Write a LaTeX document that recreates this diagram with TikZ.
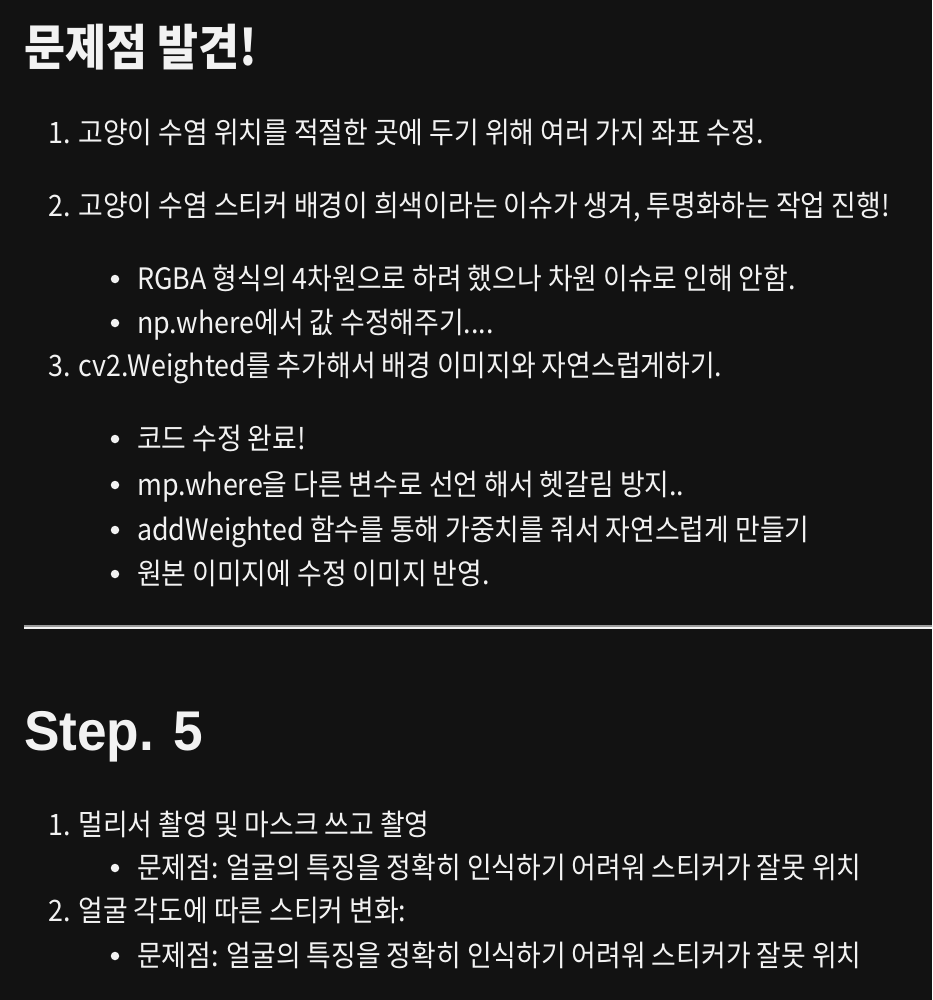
\documentclass[tikz,border=0pt]{standalone}
\usepackage{fontspec}
\setmainfont{Noto Sans CJK KR}[FakeStretch=0.91]
\newfontfamily\headfont{Noto Sans CJK KR}[FakeStretch=0.91]
\newfontfamily\stepfont{Liberation Sans}[FakeStretch=0.95]
\usepackage{tikz}
\usetikzlibrary{positioning}
\definecolor{bg}{HTML}{121212}
\definecolor{fg}{HTML}{F2F2F2}
\definecolor{rulegray}{HTML}{9A9A9A}

\begin{document}
\begin{tikzpicture}[
x=1pt, y=-1pt,
txt/.style={
	anchor=base west, inner sep=0pt, text=fg,
	font=\fontsize{29.5}{35}\selectfont
},
head/.style={
	anchor=base west, inner sep=0pt, text=fg,
	font=\headfont\bfseries\fontsize{49}{58}\selectfont
},
dot/.style={circle, fill=fg, inner sep=0pt, minimum size=8.5pt}
]
\fill[bg] (0,0) rectangle (932,1000);
\node[head] (h1) at (24,66) {문제점 발견!};
\node[txt] (i1) at (48,144) {1. 고양이 수염 위치를 적절한 곳에 두기 위해 여러 가지 좌표 수정.};
\node[txt] (i2) at (48,217) {2. 고양이 수염 스티커 배경이 희색이라는 이슈가 생겨, 투명화하는 작업 진행!};
\node[dot] (d1) at (115,279) {};
\node[txt] (b1) at (137,289) {RGBA 형식의 4차원으로 하려 했으나 차원 이슈로 인해 안함.};
\node[dot] (d2) at (115,323) {};
\node[txt] (b2) at (137,333) {np.where에서 값 수정해주기....};
\node[txt] (i3) at (48,376) {3. cv2.Weighted를 추가해서 배경 이미지와 자연스럽게하기.};
\node[dot] (d3) at (115,439) {};
\node[txt] (b3) at (137,449) {코드 수정 완료!};
\node[dot] (d4) at (115,485) {};
\node[txt] (b4) at (137,495) {mp.where을 다른 변수로 선언 해서 헷갈림 방지..};
\node[dot] (d5) at (115,530) {};
\node[txt] (b5) at (137,540) {addWeighted 함수를 통해 가중치를 줘서 자연스럽게 만들기};
\node[dot] (d6) at (115,574) {};
\node[txt] (b6) at (137,584) {원본 이미지에 수정 이미지 반영.};
% rule
\draw[rulegray, line width=2pt] (24,626) -- (932,626);
\draw[fg, line width=2pt] (24,628) -- (932,628);
\node[head, font=\stepfont\bfseries\fontsize{56}{67}\selectfont] (h2) at (24,750) {Step. 5};
\node[txt] (s1) at (48,835) {1. 멀리서 촬영 및 마스크 쓰고 촬영};
\node[dot] (d7) at (115,868) {};
\node[txt] (t1) at (137,878) {문제점: 얼굴의 특징을 정확히 인식하기 어려워 스티커가 잘못 위치};
\node[txt] (s2) at (48,921) {2. 얼굴 각도에 따른 스티커 변화:};
\node[dot] (d8) at (115,956) {};
\node[txt] (t2) at (137,966) {문제점: 얼굴의 특징을 정확히 인식하기 어려워 스티커가 잘못 위치};
\end{tikzpicture}
\end{document}
